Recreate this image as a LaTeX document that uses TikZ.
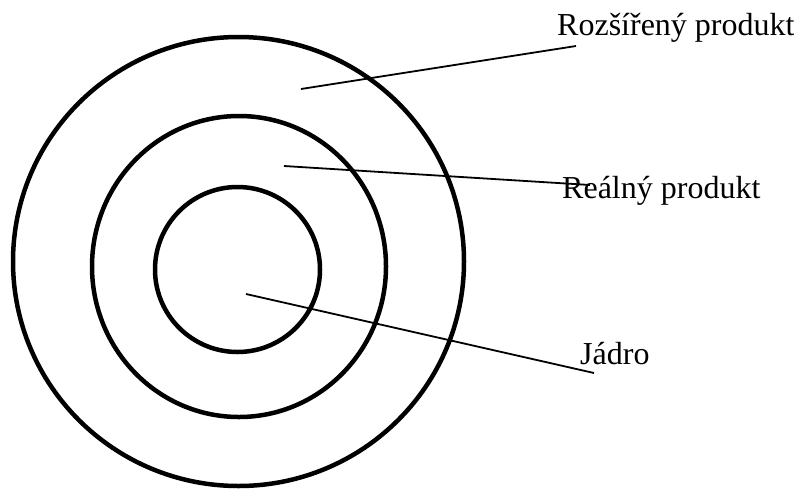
\documentclass[tikz,border=0pt]{standalone}
\usepackage{fontspec}
\setmainfont{Liberation Serif}
\begin{document}
\begin{tikzpicture}[x=1pt,y=-1pt,
  ring/.style={draw=black,line width=4.5pt},
  leader/.style={draw=black,line width=1.8pt},
  lbl/.style={inner sep=0pt,anchor=base west,font=\fontsize{32}{38}\selectfont}]
\useasboundingbox[fill=white] (0,0) rectangle (794,488);
\draw[ring] (238.5,261.5) ellipse [x radius=225.5,y radius=224.5];
\draw[ring] (239,266.5) ellipse [x radius=147,y radius=150.5];
\draw[ring] (237.5,269.5) ellipse [x radius=82.5,y radius=82.5];
\node[lbl] (ext) at (557,35) {Rozšířený produkt};
\node[lbl] (real) at (562,198) {Reálný produkt};
\node[lbl] (core) at (580,364) {Jádro};
\coordinate (extIn) at (301,89);
\coordinate (extOut) at (576,46);
\coordinate (realIn) at (284,166);
\coordinate (realOut) at (590,185);
\coordinate (coreIn) at (246,294);
\coordinate (coreOut) at (594,373);
\draw[leader] (extIn) -- (extOut);
\draw[leader] (realIn) -- (realOut);
\draw[leader] (coreIn) -- (coreOut);
\end{tikzpicture}
\end{document}
